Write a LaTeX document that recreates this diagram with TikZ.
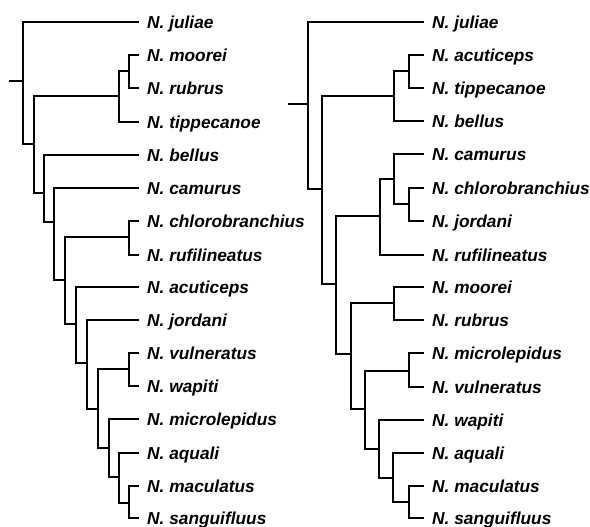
\documentclass[tikz,border=0pt]{standalone}
\usepackage{fontspec}
\setmainfont{Liberation Sans}
\begin{document}
\begin{tikzpicture}[x=1pt,y=-1pt,
  br/.style={line width=1.6pt,line join=miter,line cap=rect},
  leaf/.style={anchor=west,inner xsep=9pt,inner ysep=0pt,text height=12.4pt,text depth=0pt,
    font=\fontsize{17.3}{20}\selectfont\bfseries\itshape}]
\useasboundingbox (0,0) rectangle (590,527);
% ---------- left tree ----------
\foreach \n/\t/\y in {a/juliae/22,b/moorei/55,c/rubrus/88,d/tippecanoe/122,e/bellus/155,
  f/camurus/188,g/chlorobranchius/221,h/rufilineatus/255,i/acuticeps/287,j/jordani/320,
  k/vulneratus/353,l/wapiti/386,m/microlepidus/419,n/aquali/453,o/maculatus/486,p/sanguifluus/518}
  \node[leaf] (L\n) at (138,\y) {N. \t};
\coordinate (Lroot) at (10,81);
\coordinate (L0) at (23,81);
\coordinate (L1) at (34,144);
\coordinate (L2) at (119,96);
\coordinate (L3) at (129,71);
\coordinate (L4) at (44,193);
\coordinate (L5) at (54,222);
\coordinate (L6) at (65,280);
\coordinate (L7) at (129,237);
\coordinate (L8) at (76,324);
\coordinate (L9) at (87,363);
\coordinate (L10) at (98,409);
\coordinate (L11) at (129,369);
\coordinate (L12) at (109,448);
\coordinate (L13) at (119,477);
\coordinate (L14) at (129,503);
\draw[br] (Lroot) -- (L0);
\draw[br] (L0) |- (La.west);
\draw[br] (L0) |- (L1);
\draw[br] (L1) |- (L2);
\draw[br] (L1) |- (L4);
\draw[br] (L2) |- (L3);
\draw[br] (L2) |- (Ld.west);
\draw[br] (L3) |- (Lb.west);
\draw[br] (L3) |- (Lc.west);
\draw[br] (L4) |- (Le.west);
\draw[br] (L4) |- (L5);
\draw[br] (L5) |- (Lf.west);
\draw[br] (L5) |- (L6);
\draw[br] (L6) |- (L7);
\draw[br] (L6) |- (L8);
\draw[br] (L7) |- (Lg.west);
\draw[br] (L7) |- (Lh.west);
\draw[br] (L8) |- (Li.west);
\draw[br] (L8) |- (L9);
\draw[br] (L9) |- (Lj.west);
\draw[br] (L9) |- (L10);
\draw[br] (L10) |- (L11);
\draw[br] (L10) |- (L12);
\draw[br] (L11) |- (Lk.west);
\draw[br] (L11) |- (Ll.west);
\draw[br] (L12) |- (Lm.west);
\draw[br] (L12) |- (L13);
\draw[br] (L13) |- (Ln.west);
\draw[br] (L13) |- (L14);
\draw[br] (L14) |- (Lo.west);
\draw[br] (L14) |- (Lp.west);
% ---------- right tree ----------
\foreach \n/\t/\y in {a/juliae/22,b/acuticeps/55,c/tippecanoe/88,d/bellus/121,e/camurus/154,
  f/chlorobranchius/188,g/jordani/221,h/rufilineatus/255,i/moorei/287,j/rubrus/320,
  k/microlepidus/353,l/vulneratus/387,m/wapiti/420,n/aquali/453,o/maculatus/486,p/sanguifluus/518}
  \node[leaf] (R\n) at (423,\y) {N. \t};
\coordinate (Rroot) at (289,104);
\coordinate (R0) at (308,104);
\coordinate (R1) at (322,189);
\coordinate (R2) at (394,96);
\coordinate (R3) at (409,71);
\coordinate (R5) at (336,284);
\coordinate (R6) at (380,216);
\coordinate (R7) at (394,179);
\coordinate (R8) at (409,204);
\coordinate (R9) at (351,354);
\coordinate (R10) at (394,303);
\coordinate (R11) at (365,409);
\coordinate (R12) at (409,371);
\coordinate (R13) at (379,449);
\coordinate (R14) at (393,478);
\coordinate (R15) at (409,502);
\draw[br] (Rroot) -- (R0);
\draw[br] (R0) |- (Ra.west);
\draw[br] (R0) |- (R1);
\draw[br] (R1) |- (R2);
\draw[br] (R1) |- (R5);
\draw[br] (R2) |- (R3);
\draw[br] (R2) |- (Rd.west);
\draw[br] (R3) |- (Rb.west);
\draw[br] (R3) |- (Rc.west);
\draw[br] (R5) |- (R6);
\draw[br] (R5) |- (R9);
\draw[br] (R6) |- (R7);
\draw[br] (R6) |- (Rh.west);
\draw[br] (R7) |- (Re.west);
\draw[br] (R7) |- (R8);
\draw[br] (R8) |- (Rf.west);
\draw[br] (R8) |- (Rg.west);
\draw[br] (R9) |- (R10);
\draw[br] (R9) |- (R11);
\draw[br] (R10) |- (Ri.west);
\draw[br] (R10) |- (Rj.west);
\draw[br] (R11) |- (R12);
\draw[br] (R11) |- (R13);
\draw[br] (R12) |- (Rk.west);
\draw[br] (R12) |- (Rl.west);
\draw[br] (R13) |- (Rm.west);
\draw[br] (R13) |- (R14);
\draw[br] (R14) |- (Rn.west);
\draw[br] (R14) |- (R15);
\draw[br] (R15) |- (Ro.west);
\draw[br] (R15) |- (Rp.west);
\end{tikzpicture}
\end{document}
